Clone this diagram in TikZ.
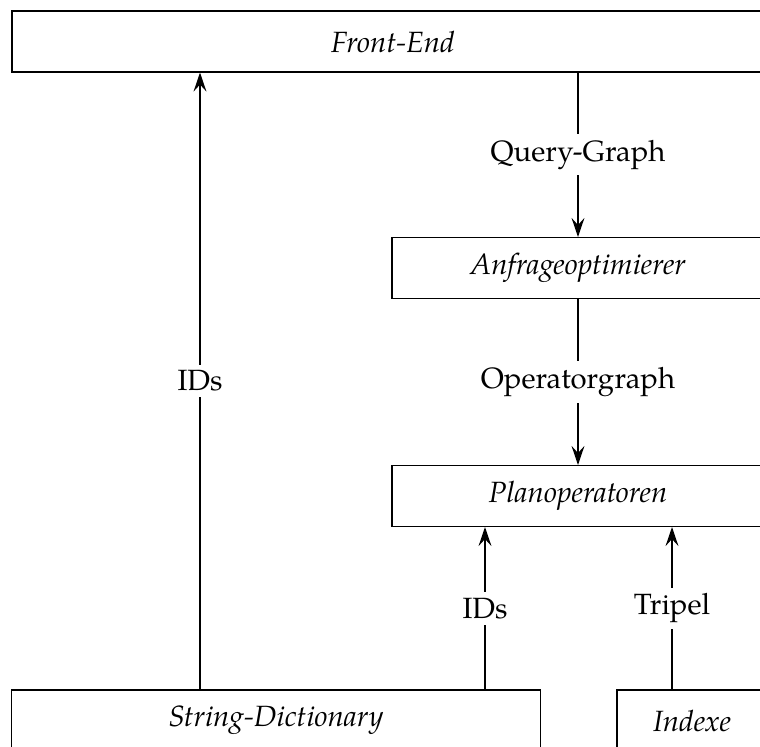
\documentclass[tikz,border=0pt]{standalone}
\usepackage{fontspec}
\setmainfont{TeX Gyre Pagella}
\usetikzlibrary{arrows.meta,positioning}

\begin{document}
\begin{tikzpicture}[x=0.012cm,y=-0.012cm,
  blk/.style={rectangle,draw,font=\itshape,minimum height=0.73cm,inner sep=0pt},
  arr/.style={-{Stealth[length=6.5pt,width=4.4pt,inset=2.4pt]},line width=0.45pt},
  lbl/.style={fill=white,inner sep=2pt},
]
\clip (0,0) rectangle (760,747);

\node[blk,minimum width=9.14cm] (fe) at (393,41.5) {Front-End};
\node[blk,minimum width=4.46cm] (ao) at (578,268) {Anfrageoptimierer};
\node[blk,minimum width=4.46cm] (po) at (578,496) {Planoperatoren};
\node[blk,minimum width=6.34cm] (sd) at (276,720.5) {String-Dictionary};
\node[blk,minimum width=1.8cm]  (ix) at (692,720.5) {Indexe};

% downward flow
\draw[arr] (fe.south -| ao) -- node[lbl]{Query-Graph} (ao.north);
\draw[arr] (ao.south) -- node[lbl]{Operatorgraph} (po.north);

% results back up
\draw[arr] (sd.north -| 200,0) -- node[lbl]{IDs} (fe.south -| 200,0);
\draw[arr] (sd.north -| 485,0) -- node[lbl]{IDs} (po.south -| 485,0);
\draw[arr] (ix.north -| 672,0) -- node[lbl]{Tripel} (po.south -| 672,0);
\end{tikzpicture}
\end{document}
